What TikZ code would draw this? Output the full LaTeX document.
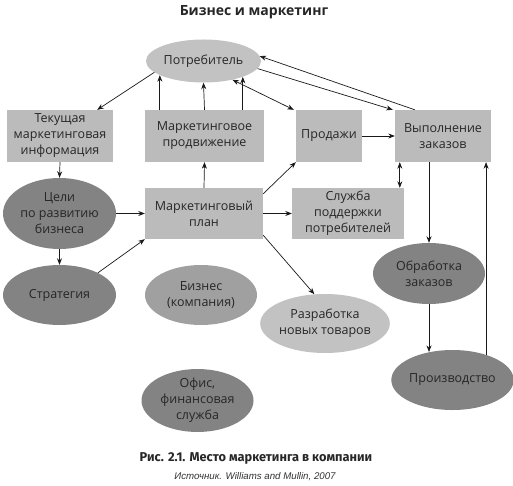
\documentclass[tikz,border=0pt]{standalone}
\usepackage{fontspec}
\setmainfont{Open Sans}
\newfontfamily\capfont{Fira Sans}
\newfontfamily\srcfont{Liberation Sans}
\usetikzlibrary{shapes.geometric,calc,arrows.meta}
\definecolor{boxgray}{HTML}{BBBBBB}
\definecolor{lightell}{HTML}{C2C2C2}
\definecolor{midell}{HTML}{A0A0A0}
\definecolor{darkell}{HTML}{838383}
\begin{document}
\begin{tikzpicture}[x=1pt,y=-1pt,
  every node/.style={font=\fontsize{12.5}{16}\selectfont, text=black!85, align=center},
  rbox/.style={rectangle, fill=boxgray, inner sep=0pt},
  ell/.style={ellipse, inner sep=0pt},
  arr/.style={-{Stealth[length=6.5pt,width=5pt]}, line width=0.7pt, black!90},
  darr/.style={{Stealth[length=6.5pt,width=5pt]}-{Stealth[length=6.5pt,width=5pt]}, line width=0.7pt, black!90}]
\path[use as bounding box, fill=white] (0,0) rectangle (513,486);

\node[font=\bfseries\fontsize{14}{16}\selectfont] (title) at (254,12) {Бизнес и маркетинг};

\node[ell, fill=lightell, minimum width=115pt, minimum height=43pt] (cons) at (203.5,61) {Потребитель};

\node[rbox, minimum width=106pt, minimum height=52pt] (info) at (60,136) {Текущая\\маркетинговая\\информация};
\node[rbox, minimum width=119pt, minimum height=52pt] (promo) at (204.5,136) {Маркетинговое\\продвижение};
\node[rbox, minimum width=66pt, minimum height=52pt] (sales) at (329,136) {Продажи};
\node[rbox, minimum width=96pt, minimum height=52pt] (ful) at (443,136) {Выполнение\\заказов};

\node[ell, fill=darkell, minimum width=113pt, minimum height=71pt] (goals) at (59.5,213.5) {Цели\\по развитию\\бизнеса};
\node[rbox, minimum width=118pt, minimum height=51pt] (plan) at (204,213.5) {Маркетинговый\\план};
\node[rbox, minimum width=112pt, minimum height=51pt] (svc) at (348,213.5) {Служба\\поддержки\\потребителей};

\node[ell, fill=darkell, minimum width=113pt, minimum height=60pt] (strat) at (59.5,295) {Стратегия};
\node[ell, fill=midell, minimum width=112pt, minimum height=60pt] (biz) at (201,295) {Бизнес\\(компания)};
\node[ell, fill=lightell, minimum width=112pt, minimum height=59pt] (dev) at (325,323.5) {Разработка\\новых товаров};
\node[ell, fill=darkell, minimum width=112pt, minimum height=61pt] (proc) at (429,273.5) {Обработка\\заказов};
\node[ell, fill=darkell, minimum width=113pt, minimum height=60pt] (prodn) at (452.5,380) {Производство};
\node[ell, fill=darkell, minimum width=112pt, minimum height=56pt] (office) at (197.5,400.5) {Офис,\\финансовая\\служба};

\node[font=\capfont\bfseries\fontsize{12.8}{14}\selectfont] (cap) at (256,458) {Рис. 2.1. Место маркетинга в компании};
\node[font=\srcfont\itshape\fontsize{9.7}{11}\selectfont, text=black!80] (src) at (255,477) {Источник. Williams and Mullin, 2007};

% connectors
\draw[arr] (cons.193) -- ($(info.north east)+(-16,0)$);
\draw[arr] (promo.north -| cons.198.8) -- (cons.198.8);
\draw[arr] (promo.north) -- (cons.south);
\draw[arr] (promo.north -| cons.338.4) -- (cons.338.4);
\draw[darr] (cons.-33) -- ($(sales.north west)+(-2,0)$);
\draw[arr] ($(ful.north west)+(20,0)$) -- (cons.5);
\draw[arr] (cons.-8) -- ($(ful.north west)+(-2,0)$);
\draw[arr] (sales.east) -- (ful.west);
\draw[arr] (info.south) -- (goals.north);
\draw[arr] (plan.north) -- (promo.south);
\draw[arr] ($(plan.north east)+(0,6)$) -- (sales.south west);
\draw[arr] (goals.east) -- (plan.west);
\draw[arr] (plan.east) -- (svc.west);
\draw[darr] (svc.north -| ful.south west) ++(5,0) coordinate (sv) (sv) -- (sv |- ful.south);
\draw[arr] (ful.south -| proc.north) -- (proc.north);
\draw[arr] (proc.south) -- (proc.south |- prodn.129.3);
\draw[arr] (prodn.37) -- (prodn.37 |- ful.south);
\draw[arr] (goals.south) -- (strat.north);
\draw[arr] (strat.30) -- (plan.south west);
\draw[arr] ($(plan.south east)+(0,-4)$) -- (dev.110);
\end{tikzpicture}
\end{document}
